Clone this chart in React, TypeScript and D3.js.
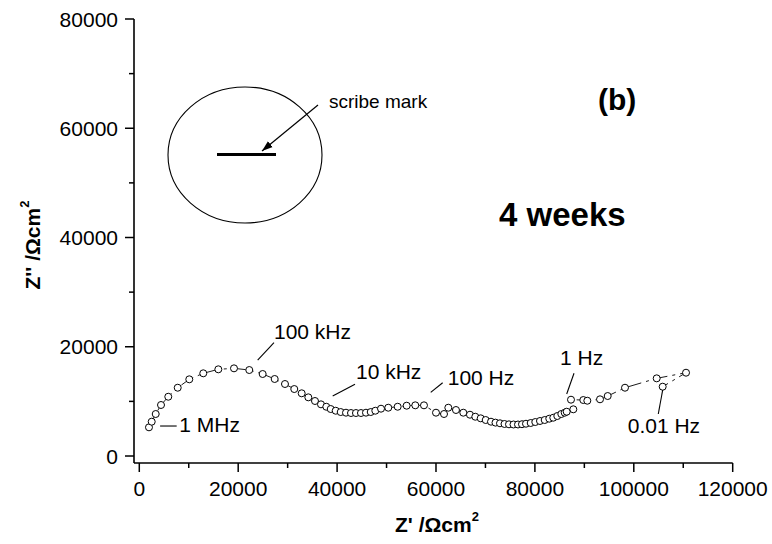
import * as d3 from 'd3';

// Nyquist data, Z' (real) and Z'' (imag), in ohm cm^2, high -> low frequency
const zReal = [
  1960, 2510, 3320, 4390, 5860, 7770, 10110, 12940, 15980, 19150,
  22240, 24950, 27380, 29460, 31340, 32840, 34180, 35530, 36740, 37820,
  38710, 39720, 40730, 41800, 42810, 43820, 44830, 45840, 46800, 47730,
  48880, 50350, 52250, 54070, 55810, 57570, 60000, 61620, 62490, 64040,
  65520, 66870, 67950, 69040, 70050, 71120, 72030, 72940, 73850, 74760,
  75670, 76580, 77390, 78200, 79150, 80080, 81030, 81980, 82910, 83720,
  84530, 85340, 86030, 86430, 87770, 87300, 89790, 90600, 93170, 94720,
  98220, 104630, 110560, 105840,
];
const zImag = [
  5250, 6280, 7690, 9340, 10850, 12500, 14040, 15140, 15870, 16050,
  15740, 15010, 14100, 13180, 12260, 11480, 10740, 10070, 9460, 9020,
  8600, 8290, 8050, 7930, 7870, 7870, 7870, 7930, 8050, 8290,
  8660, 8840, 9020, 9210, 9280, 9280, 7930, 7690, 8840, 8420,
  7930, 7560, 7190, 6900, 6590, 6280, 6110, 5990, 5860, 5800,
  5770, 5770, 5820, 5910, 6040, 6220, 6410, 6590, 6830, 7010,
  7320, 7690, 7930, 8110, 8550, 10310, 10250, 10120, 10380, 10980,
  12500, 14220, 15250, 12690,
];

const xMajor = [0, 20000, 40000, 60000, 80000, 100000, 120000];
const xMinor = [10000, 30000, 50000, 70000, 90000, 110000];
const yMajor = [0, 20000, 40000, 60000, 80000];
const yMinor = [10000, 30000, 50000, 70000];

// frequency labels: leader line from (x1,y1) to (x2,y2), text at (tx,ty), data units
const freqLabels = [
  { text: '1 MHz', x1: 4210, y1: 5490, x2: 7560, y2: 5490, tx: 8090, ty: 4390 },
  { text: '100 kHz', x1: 23940, y1: 17570, x2: 27240, y2: 20740, tx: 27240, ty: 21360 },
  { text: '10 kHz', x1: 39110, y1: 10980, x2: 43620, y2: 13120, tx: 43820, ty: 14040 },
  { text: '100 Hz', x1: 58930, y1: 11660, x2: 61350, y2: 13420, tx: 62370, ty: 13000 },
  { text: '1 Hz', x1: 86430, y1: 11350, x2: 87910, y2: 15140, tx: 85080, ty: 16660 },
  { text: '0.01 Hz', x1: 104950, y1: 7690, x2: 105840, y2: 12080, tx: 98770, ty: 4160 },
];

const W = 772;
const H = 544;
const font = 'Arial, "Liberation Sans", Helvetica, sans-serif';

export default function App() {
  const x = d3.scaleLinear().domain([-1070, 120000]).range([134, 732.7]);
  const y = d3.scaleLinear().domain([-1280, 80000]).range([463, 19]);
  const pts = zReal.map((v, i) => [v, zImag[i]] as [number, number]);
  const line = d3
    .line<[number, number]>()
    .x((d) => x(d[0]))
    .y((d) => y(d[1]));

  const x0 = x.range()[0];
  const y0 = y.range()[0];

  return (
    <svg
      width={W}
      height={H}
      style={{ position: 'absolute', left: 0, top: 0, background: '#fff' }}
      fontFamily={font}
    >
      {/* connecting dash-dot line */}
      <path d={line(pts) ?? ''} fill="none" stroke="#000" strokeWidth={0.9} strokeDasharray="14 5 3 5" />
      {pts.map((d, i) => (
        <circle key={i} cx={x(d[0])} cy={y(d[1])} r={3.5} fill="#fff" stroke="#000" strokeWidth={1} />
      ))}

      {/* axes */}
      <line x1={x0} x2={x.range()[1]} y1={y0} y2={y0} stroke="#000" strokeWidth={1.6} />
      <line x1={x0} x2={x0} y1={y0} y2={y.range()[1]} stroke="#000" strokeWidth={1.6} />
      {xMajor.map((t) => (
        <g key={`xm${t}`}>
          <line x1={x(t)} x2={x(t)} y1={y0} y2={y0 + 9} stroke="#000" strokeWidth={1.5} />
          <text x={x(t)} y={y0 + 33} textAnchor="middle" fontSize={21}>
            {t}
          </text>
        </g>
      ))}
      {xMinor.map((t) => (
        <line key={`xn${t}`} x1={x(t)} x2={x(t)} y1={y0} y2={y0 + 5} stroke="#000" strokeWidth={1.5} />
      ))}
      {yMajor.map((t) => (
        <g key={`ym${t}`}>
          <line x1={x0} x2={x0 - 9} y1={y(t)} y2={y(t)} stroke="#000" strokeWidth={1.5} />
          <text x={x0 - 16} y={y(t)} dy="0.36em" textAnchor="end" fontSize={21}>
            {t}
          </text>
        </g>
      ))}
      {yMinor.map((t) => (
        <line key={`yn${t}`} x1={x0} x2={x0 - 5} y1={y(t)} y2={y(t)} stroke="#000" strokeWidth={1.5} />
      ))}

      {/* axis titles */}
      <text x={437} y={532} textAnchor="middle" fontSize={21} fontWeight="bold">
        Z' /Ωcm<tspan fontSize={13} dy={-11}>2</tspan>
      </text>
      <text transform="translate(40,245) rotate(-90)" textAnchor="middle" fontSize={21} fontWeight="bold">
        Z'' /Ωcm<tspan fontSize={13} dy={-11}>2</tspan>
      </text>

      {/* frequency annotations */}
      {freqLabels.map((f) => (
        <g key={f.text}>
          <line x1={x(f.x1)} y1={y(f.y1)} x2={x(f.x2)} y2={y(f.y2)} stroke="#000" strokeWidth={1.1} />
          <text x={x(f.tx)} y={y(f.ty)} fontSize={21}>
            {f.text}
          </text>
        </g>
      ))}

      {/* labels */}
      <text x={598} y={110} fontSize={30} fontWeight="bold">
        (b)
      </text>
      <text x={499} y={226} fontSize={33} fontWeight="bold">
        4 weeks
      </text>

      {/* inset: specimen with scribe mark */}
      <ellipse cx={245} cy={155} rx={77} ry={68} fill="none" stroke="#000" strokeWidth={1.1} />
      <line x1={217} x2={276} y1={154.5} y2={154.5} stroke="#000" strokeWidth={3} />
      <defs>
        <marker id="arr" viewBox="0 0 10 10" refX={10} refY={5} markerWidth={9} markerHeight={9} orient="auto">
          <path d="M0,1.5 L10,5 L0,8.5 Z" fill="#000" />
        </marker>
      </defs>
      <line x1={318} y1={105} x2={262} y2={151} stroke="#000" strokeWidth={1.2} markerEnd="url(#arr)" />
      <text x={329} y={108} fontSize={19}>
        scribe mark
      </text>
    </svg>
  );
}
